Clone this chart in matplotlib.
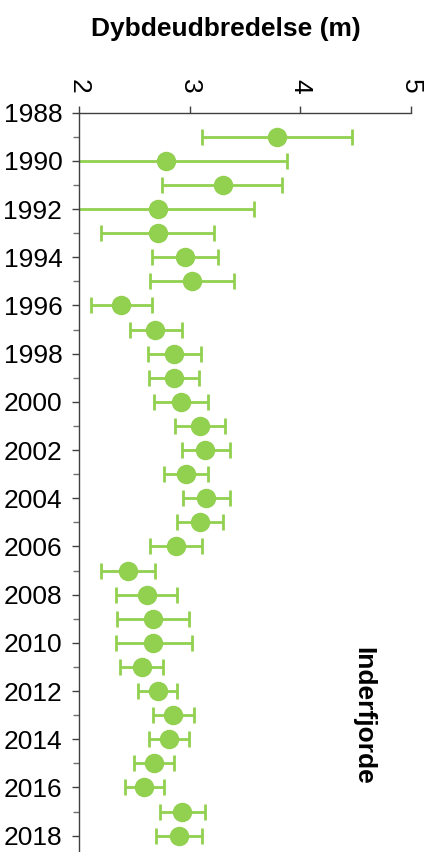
import numpy as np
import matplotlib.pyplot as plt

plt.rcParams["font.family"] = ["Liberation Sans", "DejaVu Sans"]

# Data
years = list(range(1989, 2019))
depth = [3.79, 2.79, 3.30, 2.71, 2.71, 2.96, 3.02, 2.38, 2.69, 2.86,
         2.86, 2.92, 3.09, 3.14, 2.97, 3.15, 3.09, 2.88, 2.44, 2.61,
         2.67, 2.67, 2.57, 2.71, 2.85, 2.81, 2.68, 2.59, 2.93, 2.90]
low = [3.11, 1.70, 2.75, 1.84, 2.20, 2.66, 2.64, 2.11, 2.46, 2.62,
       2.63, 2.68, 2.87, 2.93, 2.77, 2.94, 2.89, 2.64, 2.20, 2.33,
       2.34, 2.33, 2.37, 2.53, 2.67, 2.63, 2.50, 2.42, 2.73, 2.70]
high = [4.47, 3.88, 3.83, 3.58, 3.22, 3.26, 3.40, 2.66, 2.93, 3.10,
        3.08, 3.17, 3.32, 3.36, 3.17, 3.36, 3.30, 3.11, 2.69, 2.89,
        2.99, 3.02, 2.76, 2.89, 3.04, 2.99, 2.86, 2.77, 3.14, 3.11]

green = "#92D050"

fig = plt.figure(figsize=(4.28, 8.52), dpi=100)
ax = fig.add_axes([79 / 428, 0.0, (411 - 79) / 428, 1 - 112.7 / 852])

d = np.array(depth)
xerr = [d - np.array(low), np.array(high) - d]
ax.errorbar(depth, years, xerr=xerr, fmt="o", color=green, ecolor=green,
            markersize=13, elinewidth=2, capsize=5.5, capthick=2)

ax.set_xlim(2, 5)
ax.set_ylim(2018.68, 1988)
ax.xaxis.tick_top()
ax.set_xticks([2, 3, 4, 5])
ax.set_yticks(range(1988, 2019, 2))
ax.set_yticks(range(1989, 2019, 2), minor=True)

ax.tick_params(axis="x", which="major", labelsize=19, rotation=270,
               length=5, width=1, pad=9, color="#404040")
ax.tick_params(axis="y", which="major", labelsize=19, length=5, width=1,
               pad=7, color="#404040")
ax.tick_params(axis="y", which="minor", length=4, width=1, color="#707070")

for side in ["right", "bottom"]:
    ax.spines[side].set_visible(False)
for side in ["left", "top"]:
    ax.spines[side].set_color("#404040")
    ax.spines[side].set_linewidth(1)

fig.text(226 / 428, 1 - 29 / 852, "Dybdeudbredelse (m)", ha="center",
         va="center", fontsize=19, fontweight="bold")
fig.text(363 / 428, 1 - 716 / 852, "Inderfjorde", ha="center", va="center",
         fontsize=19, fontweight="bold", rotation=270)

fig.savefig("out.png", dpi=100)
